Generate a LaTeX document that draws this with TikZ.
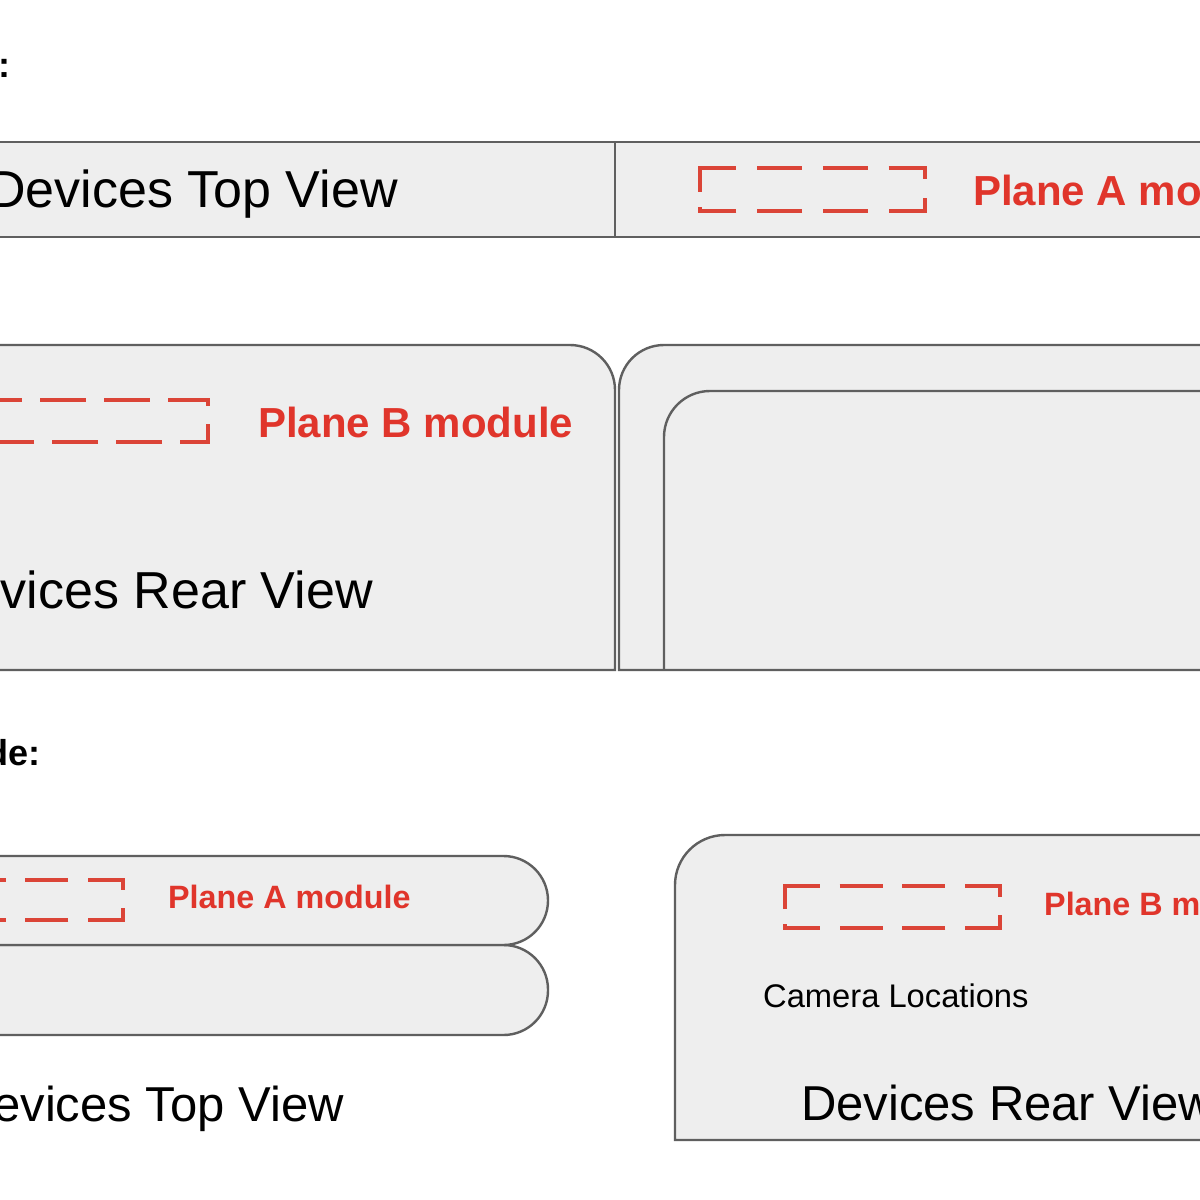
\documentclass[tikz,border=0pt]{standalone}
\usepackage{fontspec}
\setmainfont{Liberation Sans}
\definecolor{fillgray}{HTML}{EEEEEE}
\definecolor{edgegray}{HTML}{5F5F5F}
\definecolor{camred}{HTML}{DB4437}
\definecolor{labred}{HTML}{E0352B}
\tikzset{
  shell/.style={draw=edgegray, fill=fillgray, line width=2.4pt},
  divider/.style={draw=edgegray, line width=2.4pt},
  camline/.style={draw=camred, line width=4.4pt, line cap=butt, line join=miter},
  bigtxt/.style={inner sep=0pt, text=black, font=\fontsize{52}{60}\selectfont},
  midtxt/.style={inner sep=0pt, text=black, font=\fontsize{49}{58}\selectfont},
  smalltxt/.style={inner sep=0pt, text=black, font=\fontsize{32.7}{38}\selectfont},
  headtxt/.style={inner sep=0pt, text=black, font=\fontsize{36}{42}\selectfont\bfseries},
  redbig/.style={inner sep=0pt, text=labred, font=\fontsize{42}{50}\selectfont\bfseries},
  redsmall/.style={inner sep=0pt, text=labred, font=\fontsize{32.3}{38}\selectfont\bfseries}
}
% dashed camera frame: #1 left, #2 top, #3 width, #4 height
\newcommand{\drawcamframe}[4]{%
  \draw[camline] (#1,{#2+0.55*#4}) -- (#1,#2) -- ({#1+0.162*#3},#2);
  \draw[camline] ({#1+0.254*#3},#2) -- ({#1+0.454*#3},#2);
  \draw[camline] ({#1+0.546*#3},#2) -- ({#1+0.746*#3},#2);
  \draw[camline] ({#1+0.838*#3},#2) -- ({#1+#3},#2) -- ({#1+#3},{#2+0.25*#4});
  \draw[camline] ({#1+#3},{#2+0.7*#4}) -- ({#1+#3},{#2+#4}) -- ({#1+0.838*#3},{#2+#4});
  \draw[camline] ({#1+0.746*#3},{#2+#4}) -- ({#1+0.546*#3},{#2+#4});
  \draw[camline] ({#1+0.454*#3},{#2+#4}) -- ({#1+0.254*#3},{#2+#4});
  \draw[camline] ({#1+0.162*#3},{#2+#4}) -- (#1,{#2+#4}) -- (#1,{#2+0.9*#4});
}
\begin{document}
\begin{tikzpicture}[x=1pt,y=-1pt]
\useasboundingbox (0,0) rectangle (1200,1200);
\fill[white] (0,0) rectangle (1200,1200);
\clip (0,0) rectangle (1200,1200);

% ---------- top section ----------
\node[headtxt, anchor=base east] (head1) at (11,77) {:};

\path[shell] (-10,142) rectangle (615,237);
\path[shell] (615,142) rectangle (1210,237);
\node[bigtxt, anchor=base east] (topview1) at (398,207) {Devices Top View};
\drawcamframe{700}{168}{225}{43}
\node[redbig, anchor=base west] (planeA1) at (973,205) {Plane A module};

% ---------- middle section ----------
\path[shell] (-10,345) -- (570,345) .. controls (594.9,345) and (615,365.1) .. (615,390)
  -- (615,670) -- (-10,670) -- cycle;
\path[shell] (1210,345) -- (664,345) .. controls (639.1,345) and (619,365.1) .. (619,390)
  -- (619,670) -- (1210,670) -- cycle;
\draw[divider] (1210,391) -- (710,391) .. controls (684.6,391) and (664,411.6) .. (664,437)
  -- (664,670);
\draw[camline, dash pattern=on 46pt off 18pt, dash phase=7pt]
  (-17,400) -- ++(225,0) -- ++(0,42) -- ++(-225,0) -- cycle;
\node[redbig, anchor=base west] (planeB1) at (258,437) {Plane B module};
\node[bigtxt, anchor=base east] (rearview1) at (373,608) {Devices Rear View};

% ---------- bottom section ----------
\node[headtxt, anchor=base east] (head2) at (41,765) {de:};

\path[shell, rounded corners=44.5pt] (-60,945) rectangle (548,1035);
\path[shell, rounded corners=44.5pt] (-60,856) rectangle (548,945);
\drawcamframe{-92}{880}{215}{40}
\node[redsmall, anchor=base west] (planeA2) at (168,908) {Plane A module};
\node[midtxt, anchor=base east] (topview2) at (344,1121) {Devices Top View};

\path[shell] (1210,835) -- (725,835) .. controls (697.4,835) and (675,857.4) .. (675,885)
  -- (675,1140) -- (1210,1140) -- cycle;
\drawcamframe{785}{886}{215}{42}
\node[redsmall, anchor=base west] (planeB2) at (1044,915) {Plane B module};
\node[smalltxt, anchor=base west] (camloc) at (763,1007) {Camera Locations};
\node[midtxt, anchor=base west] (rearview2) at (801,1120) {Devices Rear View};
\end{tikzpicture}
\end{document}
